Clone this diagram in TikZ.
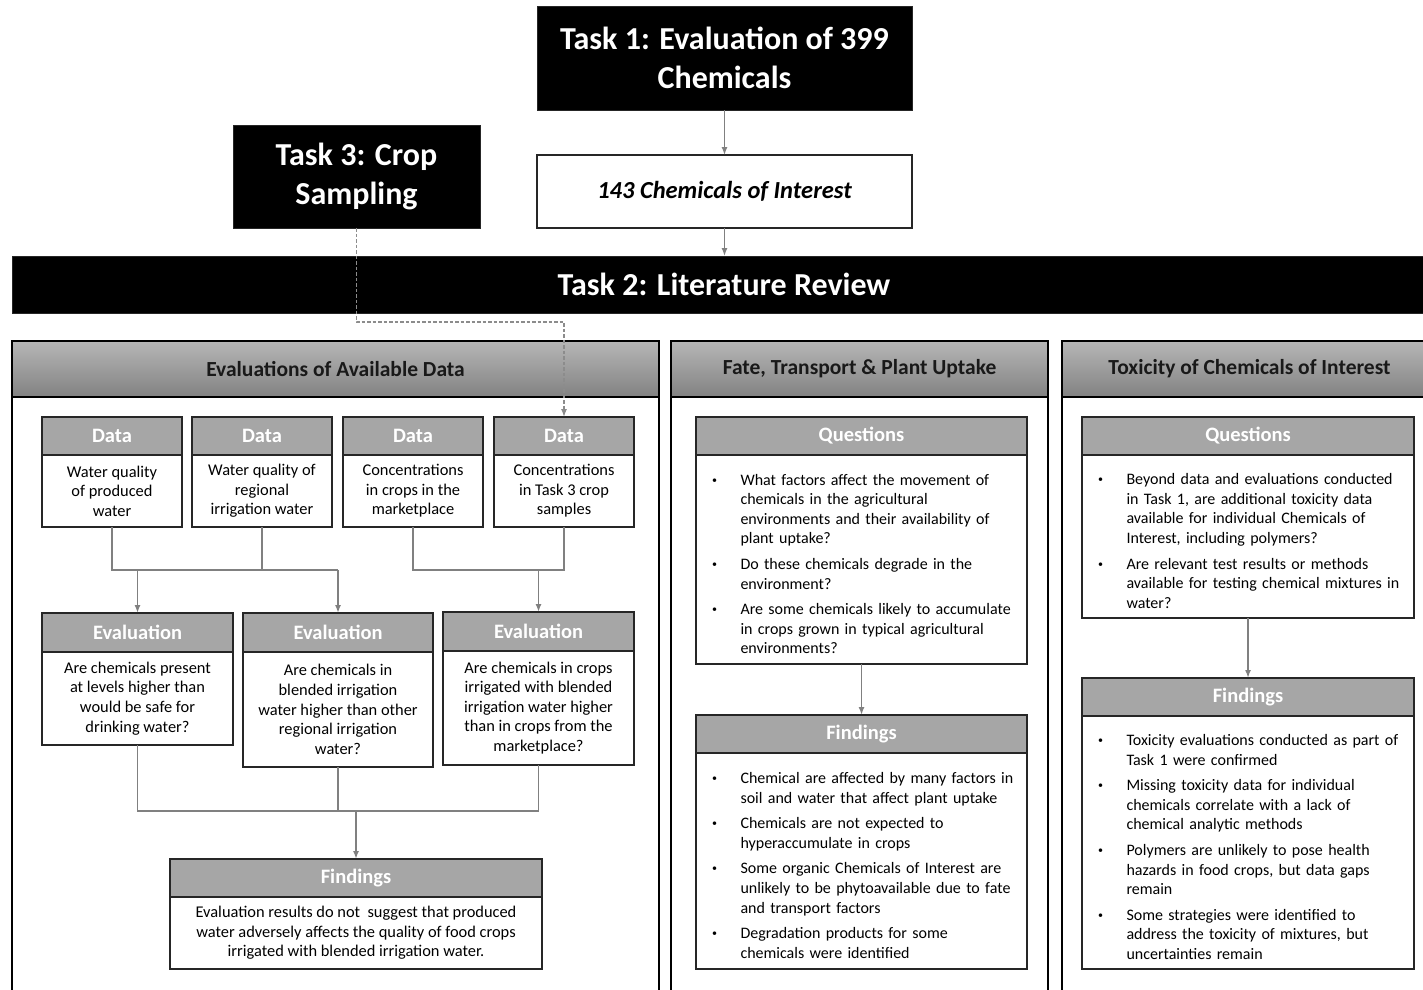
\documentclass[tikz,border=0pt]{standalone}
\usepackage{fontspec}
\setmainfont{Carlito}
\usetikzlibrary{arrows.meta}
\definecolor{hdrgray}{HTML}{A6A6A6}
\definecolor{linegray}{HTML}{808080}
\definecolor{dashgray}{HTML}{8C8C8C}
\definecolor{bordr}{HTML}{262626}
\definecolor{phtop}{HTML}{B6B6B6}
\definecolor{phbot}{HTML}{828282}
\newcommand\bul{\raisebox{2pt}{\fontsize{10}{10}\selectfont\textbullet}}
\newcommand\blist[1]{\raisebox{-6pt}[\height][\depth]{\begin{tabular}{@{}p{28.5pt}@{}l@{}}#1\end{tabular}}}
\tikzset{
  every node/.style={outer sep=0pt},
  taskbox/.style={draw=bordr, line width=1pt, fill=black, text=white, align=center,
    font=\fontsize{32}{39}\selectfont\bfseries, inner sep=0pt, anchor=north west},
  interestbox/.style={draw=bordr, line width=1.5pt, fill=white, align=center,
    font=\fontsize{24.5}{28}\selectfont\bfseries\itshape, inner sep=0pt, anchor=north west},
  panelhead/.style={draw=black, line width=1.5pt, top color=phtop, bottom color=phbot,
    text=black!90, font=\fontsize{21.5}{24}\selectfont\bfseries, inner sep=0pt, anchor=north west},
  panelbody/.style={draw=black, line width=1.5pt, fill=white, inner sep=0pt, anchor=north},
  hdr/.style={draw=bordr, line width=1.8pt, fill=hdrgray, text=white,
    font=\fontsize{20.5}{23}\selectfont\bfseries, inner sep=0pt, anchor=north west},
  bodyb/.style={draw=bordr, line width=1.8pt, fill=white, font=\fontsize{16.4}{19.6}\selectfont,
    align=center, inner sep=0pt, anchor=north},
  listb/.style={bodyb, font=\fontsize{16}{19.6}\selectfont, align=left},
  conn/.style={draw=linegray, line width=1.8pt},
  arr/.style={conn, -{Latex[length=8pt,width=6pt]}},
  thinarr/.style={draw=linegray, line width=1.3pt, -{Latex[length=8pt,width=6pt]}},
  dasharr/.style={draw=dashgray, line width=1.3pt, dash pattern=on 3.5pt off 2pt,
    -{Latex[length=8pt,width=6pt]}},
}
\begin{document}
\begin{tikzpicture}[x=1pt,y=-1pt]
\useasboundingbox (0,0) rectangle (1423,989);

% --- top tasks ---
\node[taskbox, minimum width=375pt, minimum height=104pt] (t1) at (537,6) {Task 1: Evaluation of 399\\Chemicals};
\node[interestbox, minimum width=375pt, minimum height=73pt] (c143) at (537,155) {143 Chemicals of Interest};
\node[taskbox, minimum width=247pt, minimum height=103pt] (t3) at (233,125) {Task 3: Crop\\Sampling};
\node[taskbox, minimum width=1424pt, minimum height=57pt] (t2) at (12,256) {Task 2: Literature Review};

\draw[thinarr] (t1.south) -- (c143.north);
\draw[thinarr] (c143.south) -- (c143.south |- t2.north);

% --- panels ---
\node[panelhead, minimum width=647pt, minimum height=56pt] (p1h) at (12,341) {Evaluations of Available Data};
\node[panelbody, minimum width=647pt, minimum height=620pt] (p1) at (p1h.south) {};
\node[panelhead, minimum width=377pt, minimum height=56pt] (p2h) at (671,341) {Fate, Transport \& Plant Uptake};
\node[panelbody, minimum width=377pt, minimum height=620pt] (p2) at (p2h.south) {};
\node[panelhead, minimum width=375pt, minimum height=56pt] (p3h) at (1062,341) {Toxicity of Chemicals of Interest};
\node[panelbody, minimum width=375pt, minimum height=620pt] (p3) at (p3h.south) {};

\coordinate (jd) at (0,322);

% --- panel 1: data boxes ---
\node[hdr, minimum width=140pt, minimum height=38pt] (d1h) at (42,417) {Data};
\node[bodyb, minimum width=140pt, minimum height=72pt] (d1) at (d1h.south) {Water quality\\of produced\\water};
\node[hdr, minimum width=140pt, minimum height=38pt] (d2h) at (192,417) {Data};
\node[bodyb, minimum width=140pt, minimum height=72pt] (d2) at (d2h.south) {Water quality of\\regional\\irrigation water};
\node[hdr, minimum width=140pt, minimum height=38pt] (d3h) at (343,417) {Data};
\node[bodyb, minimum width=140pt, minimum height=72pt] (d3) at (d3h.south) {Concentrations\\in crops in the\\marketplace};
\node[hdr, minimum width=140pt, minimum height=38pt] (d4h) at (494,417) {Data};
\node[bodyb, minimum width=140pt, minimum height=72pt] (d4) at (d4h.south) {Concentrations\\in Task 3 crop\\samples};

% evaluation boxes
\node[hdr, minimum width=191pt, minimum height=39pt] (e1h) at (42,613) {Evaluation};
\node[bodyb, minimum width=191pt, minimum height=93pt] (e1) at (e1h.south) {Are chemicals present\\at levels higher than\\would be safe for\\drinking water?};
\node[hdr, minimum width=190pt, minimum height=39pt] (e2h) at (243,613) {Evaluation};
\node[bodyb, minimum width=190pt, minimum height=115pt] (e2) at (e2h.south) {Are chemicals in\\blended irrigation\\water higher than other\\regional irrigation\\water?};
\node[hdr, minimum width=191pt, minimum height=39pt] (e3h) at (443,612) {Evaluation};
\node[bodyb, minimum width=191pt, minimum height=114pt] (e3) at (e3h.south) {Are chemicals in crops\\irrigated with blended\\irrigation water higher\\than in crops from the\\marketplace?};

% findings
\node[hdr, minimum width=372pt, minimum height=38pt] (fh) at (170,859) {Findings};
\node[bodyb, minimum width=372pt, minimum height=72pt] (f) at (fh.south) {Evaluation results do not\ \ suggest that produced\\water adversely affects the quality of food crops\\irrigated with blended irrigation water.};

% connectors panel 1
\coordinate (j1) at (0,570);
\coordinate (j2) at (0,811);
\draw[conn] (d1.south) -- (d1.south |- j1) -- (e2h.north |- j1);
\draw[conn] (d2.south) -- (d2.south |- j1);
\draw[arr] (e1h.north |- j1) -- (e1h.north);
\draw[arr] (e2h.north |- j1) -- (e2h.north);
\draw[conn] (d3.south) -- (d3.south |- j1) -- (d4.south |- j1) -- (d4.south);
\draw[arr] (e3h.north |- j1) -- (e3h.north);
\draw[conn] (e1.south) -- (e1.south |- j2) -- (e3.south |- j2) -- (e3.south);
\draw[conn] (e2.south) -- (e2.south |- j2);
\draw[arr] (fh.north |- j2) -- (fh.north);

\draw[dasharr] (t3.south) -- (t3.south |- jd) -- (d4h.north |- jd) -- (d4h.north);

% --- panel 2 ---
\node[hdr, minimum width=331pt, minimum height=38pt] (q2h) at (696,417) {Questions};
\node[listb, minimum width=331pt, minimum height=209pt, text width=299pt] (q2) at (q2h.south) {\blist{%
\bul & What factors affect the movement of\\
 & chemicals in the agricultural\\
 & environments and their availability of\\
 & plant uptake?\\[6pt]
\bul & Do these chemicals degrade in the\\
 & environment?\\[6pt]
\bul & Are some chemicals likely to accumulate\\
 & in crops grown in typical agricultural\\
 & environments?}};
\node[hdr, minimum width=331pt, minimum height=38pt] (f2h) at (696,715) {Findings};
\node[listb, minimum width=331pt, minimum height=216pt, text width=299pt] (f2) at (f2h.south) {\blist{%
\bul & Chemical are affected by many factors in\\
 & soil and water that affect plant uptake\\[6pt]
\bul & Chemicals are not expected to\\
 & hyperaccumulate in crops\\[6pt]
\bul & Some organic Chemicals of Interest are\\
 & unlikely to be phytoavailable due to fate\\
 & and transport factors\\[6pt]
\bul & Degradation products for some\\
 & chemicals were identified}};
\draw[arr] (q2.south) -- (f2h.north);

% --- panel 3 ---
\node[hdr, minimum width=332pt, minimum height=38pt] (q3h) at (1082,417) {Questions};
\node[listb, minimum width=332pt, minimum height=163pt, text width=300pt] (q3) at (q3h.south) {\blist{%
\bul & Beyond data and evaluations conducted\\
 & in Task 1, are additional toxicity data\\
 & available for individual Chemicals of\\
 & Interest, including polymers?\\[6pt]
\bul & Are relevant test results or methods\\
 & available for testing chemical mixtures in\\
 & water?}};
\node[hdr, minimum width=332pt, minimum height=38pt] (f3h) at (1082,678) {Findings};
\node[listb, minimum width=332pt, minimum height=253pt, text width=300pt] (f3) at (f3h.south) {\blist{%
\bul & Toxicity evaluations conducted as part of\\
 & Task 1 were confirmed\\[6pt]
\bul & Missing toxicity data for individual\\
 & chemicals correlate with a lack of\\
 & chemical analytic methods\\[6pt]
\bul & Polymers are unlikely to pose health\\
 & hazards in food crops, but data gaps\\
 & remain\\[6pt]
\bul & Some strategies were identified to\\
 & address the toxicity of mixtures, but\\
 & uncertainties remain}};
\draw[arr] (q3.south) -- (f3h.north);
\end{tikzpicture}
\end{document}
